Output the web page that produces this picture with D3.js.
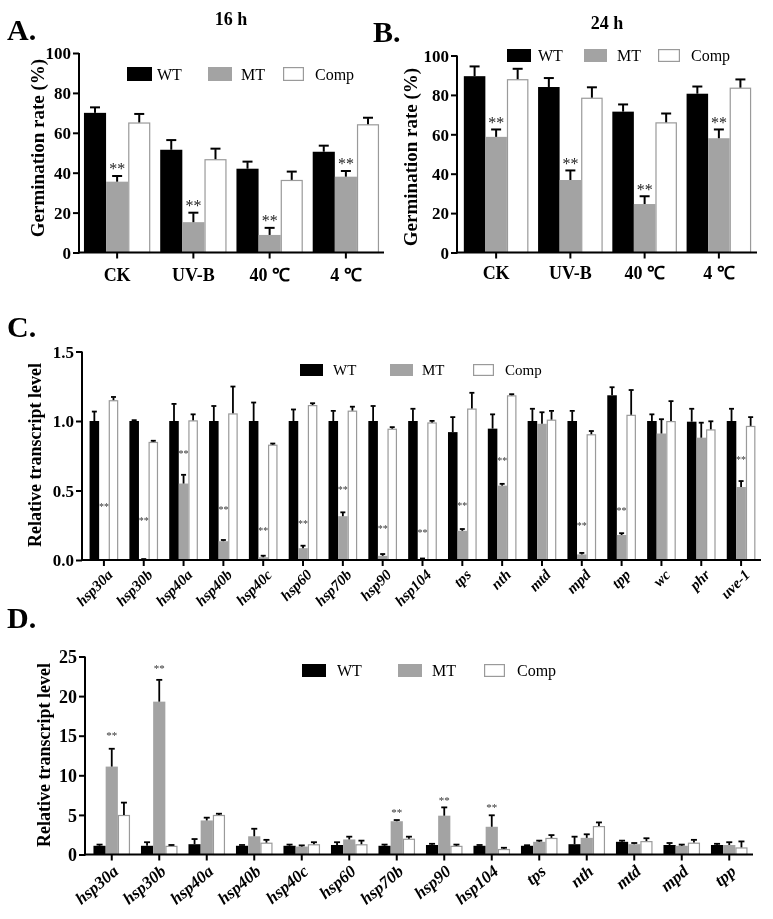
<!DOCTYPE html>
<html><head><meta charset="utf-8">
<script src="https://cdn.jsdelivr.net/npm/d3@7"></script>
<style>
body{margin:0;background:#fff;}
svg{display:block;font-family:"Liberation Serif","Times New Roman",serif;will-change:transform;}
</style></head><body>
<svg id="chart" width="773" height="919"></svg>
<script>
// ---------------- DATA ----------------
const seriesNames = ["WT", "MT", "Comp"];
const conditions = ["CK", "UV-B", "40 ℃", "4 ℃"];
const germTicks = [0, 20, 40, 60, 80, 100];

// Panel A: 16 h germination rate (%)
const germ16WT = [70.0, 51.5, 42.0, 50.5];
const germ16WTErr = [2.5, 4.6, 3.3, 2.8];
const germ16MT = [35.5, 15.2, 8.8, 38.0];
const germ16MTErr = [2.6, 4.5, 3.3, 2.6];
const germ16Comp = [65.2, 46.8, 36.4, 64.3];
const germ16CompErr = [4.0, 5.0, 3.9, 3.0];

// Panel B: 24 h germination rate (%)
const germ24WT = [89.5, 84.0, 71.5, 80.6];
const germ24WTErr = [4.7, 4.3, 3.4, 3.4];
const germ24MT = [58.7, 36.8, 24.6, 58.0];
const germ24MTErr = [3.5, 4.6, 3.7, 4.2];
const germ24Comp = [88.0, 78.6, 66.1, 83.7];
const germ24CompErr = [5.0, 5.0, 4.2, 3.9];

// Panel C: relative transcript level
const genesC = ["hsp30a","hsp30b","hsp40a","hsp40b","hsp40c","hsp60","hsp70b","hsp90","hsp104","tps","nth","mtd","mpd","tpp","wc","phr","uve-1"];
const ticksC = [0, 0.5, 1.0, 1.5];
const cWT     = [1.0, 1.0, 1.0, 1.0, 1.0, 1.0, 1.0, 1.0, 1.0, 0.92, 0.945, 1.0, 1.0, 1.185, 1.0, 0.995, 1.0];
const cWTErr  = [0.065, 0.003, 0.12, 0.105, 0.13, 0.08, 0.07, 0.105, 0.085, 0.105, 0.1, 0.085, 0.07, 0.055, 0.045, 0.09, 0.085];
const cMT     = [0, 0.004, 0.55, 0.135, 0.02, 0.085, 0.315, 0.03, 0.005, 0.21, 0.535, 0.98, 0.04, 0.18, 0.91, 0.88, 0.525];
const cMTErr  = [0, 0, 0.06, 0.006, 0.008, 0.015, 0.025, 0.01, 0.003, 0.01, 0.01, 0.08, 0.008, 0.01, 0.1, 0.105, 0.04];
const cComp   = [1.15, 0.85, 1.005, 1.055, 0.83, 1.115, 1.075, 0.945, 0.99, 1.09, 1.185, 1.01, 0.905, 1.045, 1.0, 0.94, 0.965];
const cCompErr= [0.02, 0.005, 0.04, 0.19, 0.005, 0.01, 0.025, 0.008, 0.008, 0.11, 0.005, 0.06, 0.02, 0.175, 0.14, 0.055, 0.06];
const cStars  = [0.40, 0.30, 0.78, 0.38, 0.23, 0.28, 0.52, 0.24, 0.21, 0.41, 0.73, null, 0.26, 0.37, null, null, 0.74];

// Panel D: relative transcript level
const genesD = ["hsp30a","hsp30b","hsp40a","hsp40b","hsp40c","hsp60","hsp70b","hsp90","hsp104","tps","nth","mtd","mpd","tpp"];
const ticksD = [0, 5, 10, 15, 20, 25];
const dWT     = [1.1, 1.1, 1.3, 1.1, 1.1, 1.2, 1.1, 1.2, 1.1, 1.1, 1.3, 1.6, 1.2, 1.2];
const dWTErr  = [0.1, 0.4, 0.6, 0.05, 0.1, 0.3, 0.1, 0.1, 0.05, 0.02, 0.9, 0.1, 0.2, 0.1];
const dMT     = [11.1, 19.3, 4.3, 2.3, 1.0, 1.9, 4.2, 4.9, 3.5, 1.6, 2.1, 1.3, 1.1, 1.2];
const dMTErr  = [2.2, 2.7, 0.3, 0.9, 0.1, 0.3, 0.1, 1.0, 1.4, 0.1, 0.4, 0.1, 0.1, 0.3];
const dComp   = [5.0, 1.1, 5.0, 1.5, 1.3, 1.3, 2.0, 1.1, 0.7, 2.1, 3.6, 1.7, 1.5, 0.9];
const dCompErr= [1.5, 0.05, 0.1, 0.3, 0.2, 0.4, 0.2, 0.1, 0.1, 0.3, 0.4, 0.3, 0.3, 0.7];
const dStars  = [15.3, 23.8, null, null, null, null, 5.6, 7.1, 6.3, null, null, null, null, null];

// ---------------- DRAWING ----------------
const svg = d3.select("#chart");
const fills = { WT: "#000000", MT: "#a3a3a3", Comp: "#ffffff" };
const SERIF = "'Liberation Serif','Times New Roman',serif";

function panel(cfg) {
  const g = svg.append("g");
  const x0 = d3.scaleBand().domain(cfg.cats).range(cfg.xRange)
    .paddingInner(cfg.pi).paddingOuter(cfg.po);
  const x1 = d3.scaleBand().domain(seriesNames).range([0, x0.bandwidth()]);
  const y = d3.scaleLinear().domain(cfg.yDomain).range(cfg.yRange);
  const bw = x1.bandwidth();

  cfg.series.forEach((s, si) => {
    const name = seriesNames[si];
    const rows = cfg.cats.map((c, i) => ({ c, v: s[0][i], e: s[1][i] }));
    const isComp = name === "Comp";
    g.append("g").selectAll("rect").data(rows).join("rect")
      .attr("x", d => x0(d.c) + x1(name) + (isComp ? 0.6 : 0))
      .attr("width", bw - (isComp ? 1.2 : 0))
      .attr("y", d => y(d.v) + (isComp ? 0.6 : 0))
      .attr("height", d => Math.max(0, y(0) - y(d.v) - (isComp ? 0.6 : 0)))
      .attr("fill", fills[name])
      .attr("stroke", isComp ? "#9a9a9a" : "none")
      .attr("stroke-width", isComp ? 1.2 : 0);
  });
  // error bars (upward)
  cfg.series.forEach((s, si) => {
    const name = seriesNames[si];
    const rows = cfg.cats.map((c, i) => ({ c, v: s[0][i], e: s[1][i] })).filter(d => d.v > 0);
    const eg = g.append("g").attr("stroke", "#000").attr("stroke-width", cfg.ebw);
    eg.selectAll("line.v").data(rows).join("line").attr("class", "v")
      .attr("x1", d => x0(d.c) + x1(name) + bw / 2)
      .attr("x2", d => x0(d.c) + x1(name) + bw / 2)
      .attr("y1", d => y(d.v)).attr("y2", d => y(d.v + d.e));
    eg.selectAll("line.c").data(rows).join("line").attr("class", "c")
      .attr("x1", d => x0(d.c) + x1(name) + bw / 2 - cfg.cap / 2)
      .attr("x2", d => x0(d.c) + x1(name) + bw / 2 + cfg.cap / 2)
      .attr("y1", d => y(d.v + d.e) - cfg.ebw / 2 + 0.5).attr("y2", d => y(d.v + d.e) - cfg.ebw / 2 + 0.5);
  });
  // significance stars
  if (cfg.stars) {
    const rows = cfg.cats.map((c, i) => ({ c, s: cfg.stars[i] })).filter(d => d.s != null);
    g.append("g").selectAll("text").data(rows).join("text")
      .attr("x", d => x0(d.c) + x1("MT") + bw / 2)
      .attr("y", d => y(d.s) + cfg.starFs * 0.55)
      .attr("text-anchor", "middle")
      .attr("font-size", cfg.starFs).attr("fill", cfg.starColor)
      .text("**");
  }
  // axes
  const ya = g.append("g").attr("transform", `translate(${cfg.axisX},0)`)
    .call(d3.axisLeft(y).tickValues(cfg.yTicks).tickSize(6).tickSizeOuter(0).tickFormat(cfg.fmt));
  ya.attr("font-family", SERIF);
  ya.select(".domain").attr("stroke-width", 2).attr("d", `M0,${cfg.yRange[0] + 1}V${cfg.yRange[1]}`);
  ya.selectAll(".tick line").attr("stroke-width", 2);
  ya.selectAll(".tick text").attr("font-weight", "bold")
    .attr("font-size", cfg.yFs).attr("fill", "#000").attr("x", -8).attr("dy", "0.34em");

  const xa = g.append("g").attr("transform", `translate(0,${y(0)})`)
    .call(d3.axisBottom(x0).tickSize(6).tickSizeOuter(0));
  xa.attr("font-family", SERIF);
  xa.select(".domain").attr("stroke-width", 2).attr("d", `M${cfg.axisX - 1},0H${cfg.xEnd}`);
  xa.selectAll(".tick line").attr("stroke-width", 2);
  const tt = xa.selectAll(".tick text")
    .attr("font-weight", "bold").attr("font-size", cfg.xFs).attr("fill", "#000");
  if (cfg.rotate) {
    tt.attr("font-style", "italic").attr("text-anchor", "end")
      .attr("y", 0).attr("dy", "0.35em")
      .attr("transform", `translate(${cfg.rotDx},${cfg.rotDy}) rotate(${cfg.rotate})`);
  } else {
    tt.attr("y", cfg.xLabelDy).attr("dy", 0);
  }
  // y label
  g.append("text")
    .attr("transform", `translate(${cfg.yLabel[0]},${cfg.yLabel[1]}) rotate(-90)`)
    .attr("text-anchor", "middle").attr("dy", "0.35em")
    .attr("font-weight", "bold").attr("font-size", cfg.yLabelFs)
    .text(cfg.yLabelText);
  // legend
  const lg = g.append("g");
  seriesNames.forEach((n, i) => {
    const L = cfg.legend[i];
    lg.append("rect").attr("x", L[0] + (n === "Comp" ? 0.6 : 0)).attr("y", cfg.legendY + (n === "Comp" ? 0.6 : 0))
      .attr("width", L[1] - (n === "Comp" ? 1.2 : 0)).attr("height", cfg.legendH - (n === "Comp" ? 1.2 : 0))
      .attr("fill", fills[n]).attr("stroke", n === "Comp" ? "#9a9a9a" : "none").attr("stroke-width", 1.2);
    lg.append("text").attr("x", L[2]).attr("y", cfg.legendY + cfg.legendH / 2).attr("dy", "0.35em")
      .attr("font-size", cfg.legendFs).text(n);
  });
  return { x0, x1, y };
}

function letter(t, x, y) {
  svg.append("text").attr("x", x).attr("y", y).attr("font-weight", "bold")
    .attr("font-size", 30).text(t);
}
function title(t, x, y) {
  svg.append("text").attr("x", x).attr("y", y).attr("text-anchor", "middle")
    .attr("font-weight", "bold").attr("font-size", 18).text(t);
}

// Panel A
panel({
  cats: conditions,
  series: [[germ16WT, germ16WTErr], [germ16MT, germ16MTErr], [germ16Comp, germ16CompErr]],
  xRange: [79, 384], axisX: 79, xEnd: 384, pi: 0.13, po: 0.065,
  yDomain: [0, 100], yRange: [252.5, 53], yTicks: germTicks, fmt: d3.format("d"),
  cap: 10, ebw: 2, yFs: 17, xFs: 18, xLabelDy: 28,
  stars: germ16MT.map((v, i) => v + germ16MTErr[i] + 5.5), starFs: 16, starColor: "#222",
  yLabel: [37, 148], yLabelFs: 19, yLabelText: "Germination rate (%)",
  legend: [[127, 25, 157], [208, 24, 241], [283, 21, 315]], legendY: 67, legendH: 14, legendFs: 16
});
// Panel B
panel({
  cats: conditions,
  series: [[germ24WT, germ24WTErr], [germ24MT, germ24MTErr], [germ24Comp, germ24CompErr]],
  xRange: [459, 756], axisX: 457, xEnd: 757, pi: 0.13, po: 0.065,
  yDomain: [0, 100], yRange: [252.5, 55.5], yTicks: germTicks, fmt: d3.format("d"),
  cap: 10, ebw: 2, yFs: 17, xFs: 18, xLabelDy: 26,
  stars: germ24MT.map((v, i) => v + germ24MTErr[i] + 5.5), starFs: 16, starColor: "#222",
  yLabel: [410, 157], yLabelFs: 19, yLabelText: "Germination rate (%)",
  legend: [[507, 24, 538], [584, 23, 617], [658, 22, 691]], legendY: 49, legendH: 13, legendFs: 16
});
// Panel C
panel({
  cats: genesC,
  series: [[cWT, cWTErr], [cMT, cMTErr], [cComp, cCompErr]],
  xRange: [84, 761], axisX: 82, xEnd: 761, pi: 0.28, po: 0.14,
  yDomain: [0, 1.5], yRange: [560, 351.5], yTicks: ticksC, fmt: d3.format(".1f"),
  cap: 5, ebw: 1.8, yFs: 17, xFs: 15,
  rotate: -45, rotDx: 6, rotDy: 12,
  stars: cStars, starFs: 10, starColor: "#333",
  yLabel: [35, 455], yLabelFs: 18, yLabelText: "Relative transcript level",
  legend: [[300, 23, 333], [390, 23, 422], [473, 21, 505]], legendY: 364, legendH: 12, legendFs: 15
});
// Panel D
panel({
  cats: genesD,
  series: [[dWT, dWTErr], [dMT, dMTErr], [dComp, dCompErr]],
  xRange: [88, 753], axisX: 85, xEnd: 753, pi: 0.23, po: 0.115,
  yDomain: [0, 25], yRange: [854.5, 656.5], yTicks: ticksD, fmt: d3.format("d"),
  cap: 6, ebw: 1.8, yFs: 18, xFs: 17,
  rotate: -40, rotDx: 4, rotDy: 14,
  stars: dStars, starFs: 11, starColor: "#333",
  yLabel: [44, 755], yLabelFs: 18, yLabelText: "Relative transcript level",
  legend: [[302, 24, 337], [398, 24, 432], [484, 21, 517]], legendY: 664, legendH: 13, legendFs: 16
});

letter("A.", 7, 40);
letter("B.", 373, 42);
letter("C.", 7, 337);
letter("D.", 7, 628);
title("16 h", 231, 25);
title("24 h", 607, 29);
</script>
</body></html>
